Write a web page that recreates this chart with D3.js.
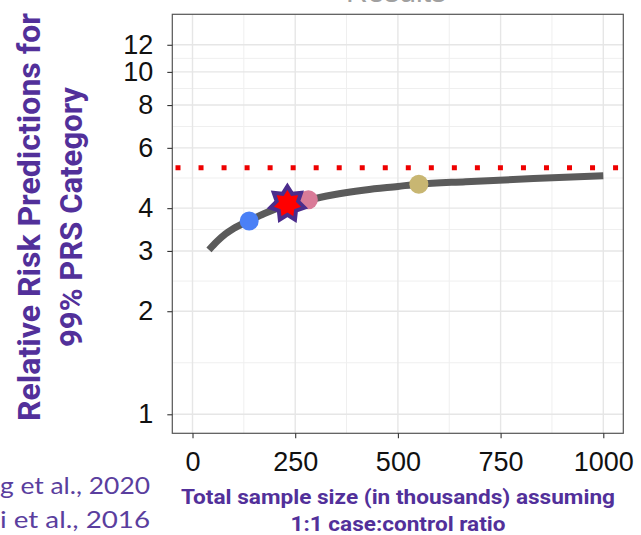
<!DOCTYPE html>
<html><head><meta charset="utf-8">
<script src="https://cdn.jsdelivr.net/npm/d3@7"></script>
<style>html,body{margin:0;padding:0;background:#fff;}svg{display:block;}</style>
</head><body>
<svg id="chart" width="641" height="535"></svg>
<script>
// ---- data ----
const curveX = [40, 60, 80, 100, 137, 175, 230, 280, 340, 420, 500, 550, 665, 830, 1000];
const curveY = [3.02, 3.2, 3.36, 3.49, 3.67, 3.86, 4.08, 4.22, 4.37, 4.52, 4.63, 4.70, 4.78, 4.88, 4.97];
const pointNames = ["blue", "pink", "gold"];
const pointX = [138, 282, 551];
const pointY = [3.67, 4.23, 4.70];
const starX = [231];
const starY = [4.12];
const thresholdY = [5.25];
const xTicks = [0, 250, 500, 750, 1000];
const xMinor = [125, 375, 625, 875];
const yTicks = [1, 2, 3, 4, 6, 8, 10, 12];
const yTitle = ["Relative Risk Predictions for", "99% PRS Category"];
const xTitle = ["Total sample size (in thousands) assuming", "1:1 case:control ratio"];
const citations = ["g et al., 2020", "i et al., 2016"];
const topTitle = "Results";

// ---- styles ----
const pointColor = {blue: "#4a80f6", pink: "#d97b98", gold: "#c8b672"};
const purple = "#52309a";

const svg = d3.select("#chart");
const L = 172.3, R = 623.3, T = 14.3, B = 433.3;
const x = d3.scaleLinear().domain([-49.2, 1048.7]).range([L, R]);
const y = d3.scaleLog().domain([0.88, 14.73]).range([B, T]);

// top cut-off title
svg.append("text").attr("x", 396).attr("y", 1.5).attr("text-anchor", "middle")
  .attr("font-family", "Liberation Sans, Arial, sans-serif").attr("font-size", 30)
  .attr("fill", "#a0a0a0").text(topTitle);

// grid
const g = svg.append("g");
const yMinor = d3.pairs(yTicks).map(([a, b]) => Math.sqrt(a * b));
g.selectAll(".ym").data(yMinor).join("line")
  .attr("x1", L).attr("x2", R).attr("y1", d => y(d)).attr("y2", d => y(d))
  .attr("stroke", "#efefef").attr("stroke-width", 1);
g.selectAll(".xm").data(xMinor).join("line")
  .attr("y1", T).attr("y2", B).attr("x1", d => x(d)).attr("x2", d => x(d))
  .attr("stroke", "#efefef").attr("stroke-width", 1);
g.selectAll(".yM").data(yTicks).join("line")
  .attr("x1", L).attr("x2", R).attr("y1", d => y(d)).attr("y2", d => y(d))
  .attr("stroke", "#e6e6e6").attr("stroke-width", 1.4);
g.selectAll(".xM").data(xTicks).join("line")
  .attr("y1", T).attr("y2", B).attr("x1", d => x(d)).attr("x2", d => x(d))
  .attr("stroke", "#e6e6e6").attr("stroke-width", 1.4);

// threshold dotted line
svg.selectAll(".thr").data(thresholdY).join("line")
  .attr("x1", L + 3.2).attr("x2", R - 3).attr("y1", d => y(d)).attr("y2", d => y(d))
  .attr("stroke", "#ee0000").attr("stroke-width", 5).attr("stroke-dasharray", "5,18.03");

// curve
const curveData = curveX.map((d, i) => [d, curveY[i]]);
svg.append("path").datum(curveData)
  .attr("d", d3.line().x(d => x(d[0])).y(d => y(d[1])).curve(d3.curveMonotoneX))
  .attr("fill", "none").attr("stroke", "#5b5b5b").attr("stroke-width", 7);

// points
svg.selectAll(".pt").data(pointNames).join("circle")
  .attr("cx", (d, i) => x(pointX[i])).attr("cy", (d, i) => y(pointY[i]))
  .attr("r", 9.5).attr("fill", d => pointColor[d]);

// star (7 points)
const nP = 7, rOut = 17.5, rIn = 11;
const starPts = d3.range(nP * 2).map(i => [i * Math.PI / nP, i % 2 ? rIn : rOut]);
const starPath = d3.lineRadial().curve(d3.curveLinearClosed)(starPts);
svg.selectAll(".star").data(starX).join("path")
  .attr("d", starPath)
  .attr("transform", (d, i) => `translate(${x(d)},${y(starY[i])})`)
  .attr("fill", "#ff0000").attr("stroke", "#4b2c8c").attr("stroke-width", 4)
  .attr("stroke-linejoin", "miter");

// panel border
svg.append("rect").attr("x", L).attr("y", T).attr("width", R - L).attr("height", B - T)
  .attr("fill", "none").attr("stroke", "#555").attr("stroke-width", 1.2);

// axes
const yAxis = svg.append("g").attr("transform", `translate(${L},0)`)
  .call(d3.axisLeft(y).tickValues(yTicks).tickFormat(d3.format("d")).tickSize(5).tickPadding(14));
const xAxis = svg.append("g").attr("transform", `translate(0,${B})`)
  .call(d3.axisBottom(x).tickValues(xTicks).tickFormat(d3.format("d")).tickSize(5).tickPadding(14));
[yAxis, xAxis].forEach(a => {
  a.select(".domain").remove();
  a.selectAll(".tick line").attr("stroke", "#333").attr("stroke-width", 1.1);
  a.selectAll(".tick text").attr("font-family", "Liberation Sans, Arial, sans-serif")
    .attr("font-size", 27).attr("fill", "#111");
});

// y title
const yt = svg.append("g");
[[40, 408], [82, 260]].forEach(([bx, len], i) => {
  yt.append("text").attr("transform", `translate(${bx},217) rotate(-90)`)
    .attr("text-anchor", "middle").attr("font-family", "Roboto, sans-serif")
    .attr("font-weight", "bold").attr("font-size", 31).attr("fill", purple)
    .attr("textLength", len).attr("lengthAdjust", "spacingAndGlyphs").text(yTitle[i]);
});

// x title
[[504, 434], [531, 215]].forEach(([by, len], i) => {
  svg.append("text").attr("x", 398).attr("y", by).attr("text-anchor", "middle")
    .attr("font-family", "Roboto, sans-serif").attr("font-weight", "bold")
    .attr("font-size", 19.5).attr("fill", purple)
    .attr("textLength", len).attr("lengthAdjust", "spacingAndGlyphs").text(xTitle[i]);
});

// citations
[[494, 150], [528, 150]].forEach(([by, len], i) => {
  svg.append("text").attr("x", 0).attr("y", by)
    .attr("font-family", "Lato, sans-serif").attr("font-size", 24)
    .attr("fill", "#5a3e9e").attr("textLength", len).attr("lengthAdjust", "spacingAndGlyphs")
    .text(citations[i]);
});
</script>
</body></html>
